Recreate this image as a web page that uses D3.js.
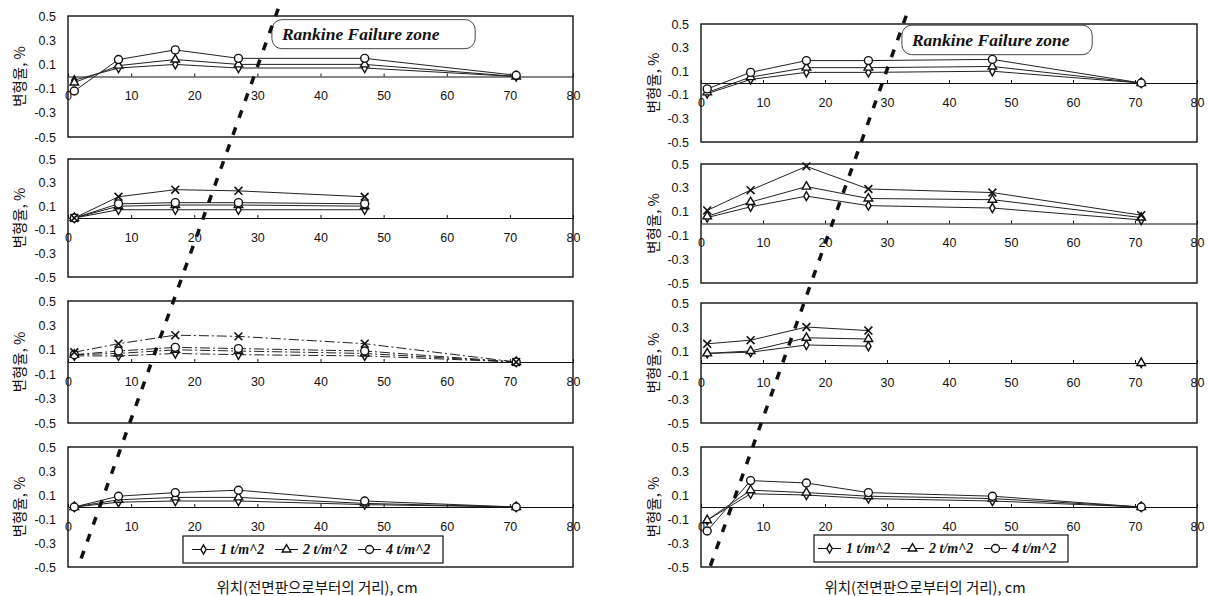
<!DOCTYPE html>
<html>
<head>
<meta charset="utf-8">
<script src="https://cdn.jsdelivr.net/npm/d3@7"></script>
<style>
  body { margin: 0; background: #fff; }
  svg { display: block; }
</style>
</head>
<body>
<div id="chart"></div>
<script>
// 측정 위치 (cm)
const xPos = [1, 8, 17, 27, 47, 71]
const xTicks = [0, 10, 20, 30, 40, 50, 60, 70, 80]
const yTicks = [-0.5, -0.3, -0.1, 0.1, 0.3, 0.5]
const legendKeys = ["load1", "load2", "load4"]
const legendLabels = ["1 t/m^2", "2 t/m^2", "4 t/m^2"]
const yTitle = "변형율, %"
const xTitle = "위치(전면판으로부터의 거리), cm"
const rankineLabel = "Rankine Failure zone"

// 왼쪽 열
const left1 = {
  load1: [-0.03, 0.07, 0.10, 0.07, 0.07, 0.00],
  load2: [-0.05, 0.09, 0.14, 0.10, 0.10, 0.00],
  load4: [-0.12, 0.14, 0.22, 0.15, 0.15, 0.01],
}
const left2 = {
  load1: [0.00, 0.07, 0.07, 0.07, 0.07],
  load2: [0.00, 0.10, 0.11, 0.11, 0.10],
  load4: [0.00, 0.12, 0.13, 0.13, 0.12],
  loadX: [0.00, 0.18, 0.24, 0.23, 0.18],
}
const left3 = {
  load1: [0.05, 0.05, 0.07, 0.06, 0.05, 0.00],
  load2: [0.06, 0.07, 0.10, 0.09, 0.07, 0.00],
  load4: [0.06, 0.09, 0.12, 0.11, 0.09, 0.00],
  loadX: [0.08, 0.15, 0.22, 0.21, 0.15, 0.00],
}
const left4 = {
  load1: [0.00, 0.04, 0.05, 0.05, 0.02, 0.00],
  load2: [0.00, 0.06, 0.08, 0.08, 0.03, 0.00],
  load4: [0.00, 0.09, 0.12, 0.14, 0.05, 0.00],
}

// 오른쪽 열
const right1 = {
  load1: [-0.09, 0.03, 0.09, 0.09, 0.10, 0.00],
  load2: [-0.08, 0.05, 0.13, 0.13, 0.14, 0.00],
  load4: [-0.05, 0.09, 0.19, 0.19, 0.20, 0.00],
}
const right2 = {
  load1: [0.05, 0.14, 0.23, 0.15, 0.13, 0.03],
  load2: [0.06, 0.18, 0.31, 0.21, 0.20, 0.05],
  loadX: [0.11, 0.28, 0.48, 0.29, 0.26, 0.07],
}
const right3 = {
  load1: [0.08, 0.09, 0.15, 0.14, null, 0.00],
  load2: [0.08, 0.10, 0.21, 0.20, null, 0.00],
  loadX: [0.16, 0.19, 0.30, 0.27, null, null],
}
const right4 = {
  load1: [-0.11, 0.11, 0.10, 0.07, 0.05, 0.00],
  load2: [-0.11, 0.14, 0.12, 0.09, 0.07, 0.00],
  load4: [-0.20, 0.22, 0.20, 0.12, 0.09, 0.00],
}

// Rankine 파괴선 (패널 번호, x, y)
const rankineLeft = [[0, 33.3, 0.56], [3, 1.6, -0.5]]
const rankineRight = [[0, 33.1, 0.57], [3, 1.45, -0.5]]

// 레이아웃
const columns = [
  {
    x0: 68, x1: 573, yTitleX: 18, titleX: 317,
    panels: [[16, 137], [159, 277], [301, 423], [447, 567]],
    data: [left1, left2, left3, left4],
    dashed: [false, false, true, false],
    rankine: rankineLeft,
    box: { x0: 32.3, x1: 64.5, y0: 0.47, y1: 0.23 },
    legend: { x: 183, y: 536, w: 260, h: 27, lead: 9 },
  },
  {
    x0: 701, x1: 1197, yTitleX: 652, titleX: 925,
    panels: [[24, 142], [164, 283], [303, 423], [447, 567]],
    data: [right1, right2, right3, right4],
    dashed: [false, false, false, false],
    rankine: rankineRight,
    box: { x0: 32.4, x1: 63.1, y0: 0.49, y1: 0.24 },
    legend: { x: 814, y: 535, w: 254, h: 27, lead: 4 },
  },
]

const W = 1208, H = 596
const svg = d3.select("#chart").append("svg").attr("width", W).attr("height", H)

const symbols = {
  load1: { type: d3.symbolDiamond, size: 24 },
  load2: { type: d3.symbolTriangle, size: 32 },
  load4: { type: d3.symbolCircle, size: 50 },
  loadX: { type: d3.symbolX, size: 42 },
}
const fmt = d => d3.format(".1f")(d).replace("−", "-")

function drawMarker(sel, key) {
  const s = symbols[key]
  sel.append("path")
    .attr("d", d3.symbol().type(s.type).size(s.size)())
    .attr("fill", key === "loadX" ? "none" : "#fff")
    .attr("stroke", "#111")
    .attr("stroke-width", key === "loadX" ? 1.6 : 1.4)
}

columns.forEach(col => {
  const x = d3.scaleLinear().domain([0, 80]).range([col.x0, col.x1])
  const ys = col.panels.map(p => d3.scaleLinear().domain([-0.5, 0.5]).range([p[1], p[0]]))

  col.panels.forEach((p, i) => {
    const y = ys[i]
    const g = svg.append("g")

    // 프레임
    g.append("rect")
      .attr("x", col.x0).attr("y", p[0])
      .attr("width", col.x1 - col.x0).attr("height", p[1] - p[0])
      .attr("fill", "none").attr("stroke", "#111").attr("stroke-width", 1.4)

    // y축
    const ya = g.append("g").attr("transform", `translate(${col.x0},0)`)
      .call(d3.axisLeft(y).tickValues(yTicks).tickFormat(fmt).tickSize(0).tickPadding(12))
    ya.select(".domain").remove()
    ya.selectAll("text").attr("font-family", "'Liberation Sans', Arial, sans-serif")
      .attr("font-size", 12.5).attr("fill", "#111")

    // x축 (0선)
    const xa = g.append("g").attr("transform", `translate(0,${y(0)})`)
      .call(d3.axisBottom(x).tickValues(xTicks).tickSizeInner(-3).tickSizeOuter(0).tickPadding(15))
    xa.select(".domain").attr("stroke", "#111").attr("stroke-width", 1.1)
    xa.selectAll(".tick line").attr("stroke", "#111")
    xa.selectAll("text").attr("font-family", "'Liberation Sans', Arial, sans-serif")
      .attr("font-size", 12.5).attr("fill", "#111")

    // y축 제목
    g.append("text")
      .attr("transform", `translate(${col.yTitleX},${(p[0] + p[1]) / 2}) rotate(-90)`)
      .attr("text-anchor", "middle").attr("dominant-baseline", "central")
      .attr("font-family", "'Noto Sans CJK KR', sans-serif").attr("font-size", 14.5)
      .attr("fill", "#111")
      .text(yTitle)

    // 데이터 선
    const series = Object.entries(col.data[i])
    const line = d3.line()
      .defined(d => d[1] != null)
      .x(d => x(d[0])).y(d => y(d[1]))
    series.forEach(([key, vals]) => {
      const pts = vals.map((v, j) => [xPos[j], v])
      g.append("path")
        .attr("d", line(pts))
        .attr("fill", "none").attr("stroke", "#222").attr("stroke-width", 1)
        .attr("stroke-dasharray", col.dashed[i] ? "10,3,2,3" : null)
    })
    series.forEach(([key, vals]) => {
      const pts = vals.map((v, j) => [xPos[j], v]).filter(d => d[1] != null)
      g.selectAll(null).data(pts).enter().append("g")
        .attr("transform", d => `translate(${x(d[0])},${y(d[1])})`)
        .each(function () { drawMarker(d3.select(this), key) })
    })
  })

  // Rankine 라벨 박스
  const b = col.box, y0s = ys[0]
  svg.append("rect")
    .attr("x", x(b.x0)).attr("y", y0s(b.y0))
    .attr("width", x(b.x1) - x(b.x0)).attr("height", y0s(b.y1) - y0s(b.y0))
    .attr("rx", 10)
    .attr("fill", "#fff").attr("stroke", "#444").attr("stroke-width", 1)
  svg.append("text")
    .attr("x", x(b.x0) + 10).attr("y", (y0s(b.y0) + y0s(b.y1)) / 2)
    .attr("dominant-baseline", "central")
    .attr("font-family", "'Liberation Serif', 'Times New Roman', serif")
    .attr("font-size", 17.5).attr("font-weight", "bold").attr("font-style", "italic")
    .attr("fill", "#111")
    .text(rankineLabel)

  // Rankine 파괴선
  const rp = col.rankine.map(d => [x(d[1]), ys[d[0]](d[2])])
  svg.append("path")
    .attr("d", d3.line()(rp))
    .attr("fill", "none").attr("stroke", "#111").attr("stroke-width", 3.5)
    .attr("stroke-dasharray", "8,10")

  // 범례
  const L = col.legend
  const lg = svg.append("g").attr("transform", `translate(${L.x},${L.y})`)
  lg.append("rect").attr("width", L.w).attr("height", L.h)
    .attr("fill", "#fff").attr("stroke", "#111").attr("stroke-width", 1.2)
  legendKeys.forEach((key, k) => {
    const ex = L.lead + k * 83
    const e = lg.append("g").attr("transform", `translate(${ex},${L.h / 2})`)
    e.append("line").attr("x1", 0).attr("x2", 23).attr("stroke", "#111").attr("stroke-width", 1)
    drawMarker(e.append("g").attr("transform", "translate(11.5,0)"), key)
    e.append("text")
      .attr("x", 28).attr("dominant-baseline", "central")
      .attr("font-family", "'Liberation Serif', 'Times New Roman', serif")
      .attr("font-size", 14).attr("font-weight", "bold").attr("font-style", "italic")
      .attr("fill", "#111")
      .text(legendLabels[k])
  })

  // x축 제목
  svg.append("text")
    .attr("x", col.titleX).attr("y", 586)
    .attr("text-anchor", "middle").attr("dominant-baseline", "central")
    .attr("font-family", "'Noto Sans CJK KR', sans-serif").attr("font-size", 14.5)
    .attr("fill", "#111")
    .text(xTitle)
})
</script>
</body>
</html>
